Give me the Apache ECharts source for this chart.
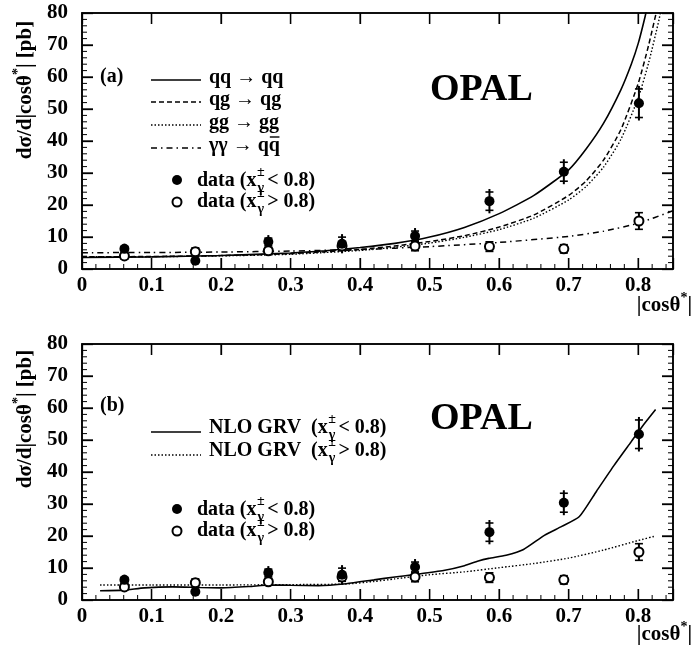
<!DOCTYPE html>
<html><head><meta charset="utf-8">
<script src="https://cdn.jsdelivr.net/npm/echarts@6/dist/echarts.min.js"></script>
<style>html,body{margin:0;padding:0;background:#fff}#c{width:696px;height:651px}</style>
</head><body><div id="c"></div>
<script>
// ---------- data ----------
const cosBins   = [0.061, 0.163, 0.268, 0.374, 0.479, 0.586, 0.693, 0.801];
const dataLow   = [6.3, 2.6, 8.5, 7.9, 10.3, 21.2, 30.4, 51.8];   // x_gamma < 0.8
const errLow    = [1.6, 1.0, 2.1, 3.0, 2.5, 3.8, 3.9, 5.4];
const dataHigh  = [4.1, 5.4, 5.7, 7.2, 7.2, 7.0, 6.3, 15.0];    // x_gamma > 0.8
const errHigh   = [1.0, 1.2, 1.1, 1.2, 1.5, 1.5, 1.3, 2.6];

const qqX = [0, 0.1, 0.2, 0.3, 0.35, 0.4, 0.45, 0.5, 0.55, 0.6, 0.65, 0.7, 0.725, 0.75, 0.775, 0.79, 0.8, 0.81, 0.815];
const qqY = [3.6, 3.8, 4.2, 5.0, 5.7, 6.7, 8.0, 10.0, 13.0, 17.3, 23.0, 31.0, 37.5, 45.5, 56, 64, 70.5, 79, 84];
const qgX = [0, 0.1, 0.2, 0.3, 0.4, 0.45, 0.5, 0.55, 0.6, 0.65, 0.7, 0.725, 0.75, 0.775, 0.8, 0.815, 0.83];
const qgY = [3.8, 3.9, 4.2, 4.8, 6.1, 7.2, 8.6, 10.4, 13.1, 16.9, 23.0, 27.5, 34.0, 43.5, 58, 70, 84];
const ggX = [0, 0.1, 0.2, 0.3, 0.4, 0.45, 0.5, 0.55, 0.6, 0.65, 0.7, 0.725, 0.75, 0.775, 0.8, 0.815, 0.83, 0.835];
const ggY = [3.8, 3.85, 4.1, 4.6, 5.8, 6.8, 8.1, 9.9, 12.3, 15.9, 21.6, 25.8, 31.8, 40.5, 53.5, 64.5, 78, 84];
const yyX = [0, 0.1, 0.2, 0.3, 0.4, 0.5, 0.6, 0.7, 0.75, 0.8, 0.85];
const yyY = [5.1, 5.15, 5.3, 5.6, 6.1, 7.0, 8.3, 10.2, 11.8, 14.3, 18.2];

const nloLowX = [0.026, 0.06, 0.09, 0.13, 0.17, 0.2, 0.24, 0.27, 0.3, 0.34, 0.38, 0.42, 0.45, 0.48, 0.52, 0.55, 0.57, 0.585, 0.61, 0.635, 0.665, 0.69, 0.715, 0.74, 0.765, 0.79, 0.805, 0.825];
const nloLowY = [2.9, 3.1, 3.8, 4.1, 3.9, 3.8, 4.2, 4.7, 4.6, 4.5, 5.1, 6.3, 7.2, 8.0, 9.2, 10.7, 12.2, 13.0, 14.0, 15.8, 20.2, 23.0, 26, 34, 42, 49.5, 54, 59.5];
const nloHighX = [0.026, 0.1, 0.2, 0.3, 0.38, 0.42, 0.45, 0.5, 0.55, 0.6, 0.65, 0.7, 0.75, 0.8, 0.825];
const nloHighY = [4.7, 4.7, 4.7, 4.8, 5.0, 5.8, 6.6, 7.9, 8.8, 10.1, 11.4, 13.1, 15.6, 18.6, 20.0];

const xTicks = ['0', '0.1', '0.2', '0.3', '0.4', '0.5', '0.6', '0.7', '0.8'];

// ---------- helpers ----------
const FF = '"Liberation Serif","Times New Roman",serif';
const mctx = document.createElement('canvas').getContext('2d');
function tw(t, s) { mctx.font = 'bold ' + s + 'px ' + FF; return mctx.measureText(t).width; }
function txt(x, y, text, size, rot) {
  const e = { type: 'text', x: x, y: y, silent: true, z: 20,
    style: { text: text, font: 'bold ' + size + 'px ' + FF, fill: '#000', align: 'left', verticalAlign: 'middle' } };
  if (rot) e.rotation = rot;
  return e;
}
function seg(x1, y1, x2, y2, w, dash) {
  const st = { stroke: '#000', lineWidth: w || 1.5 };
  if (dash) st.lineDash = dash;
  return { type: 'line', silent: true, z: 20, shape: { x1: x1, y1: y1, x2: x2, y2: y2 }, style: st };
}
function hline(x1, x2, y, dash, w) { return seg(x1, y, x2, y, w, dash); }
function xgLabel(x, y, prefix, rel) {
  const els = [];
  let cx = x;
  els.push(txt(cx, y, prefix + '(x', 20)); cx += tw(prefix + '(x', 20);
  els.push(txt(cx + 0.5, y - 9, '±', 14)); els.push(txt(cx + 1, y + 7, 'γ', 14));
  cx += tw('±', 14) + 3;
  els.push(txt(cx, y, rel + ' 0.8)', 20));
  return els;
}
const cX = v => { if (Math.abs(v - 0.85) < 1e-6) return ''; const i = Math.round(v * 10); return Math.abs(v * 10 - i) < 1e-6 ? xTicks[i] : ''; };

function axesFor(g) {
  const base = { gridIndex: g, type: 'value', splitLine: { show: false } };
  const lineOn = () => ({ show: true, onZero: false, lineStyle: { color: '#000', width: 1.5 } });
  const maj = () => ({ show: true, inside: true, length: 11, lineStyle: { color: '#000', width: 1.3 } });
  return { xs: [
    Object.assign({}, base, { min: 0, max: 0.85, interval: 0.1, position: 'bottom', axisLine: lineOn(), axisTick: maj(),
      axisLabel: { show: true, formatter: cX, fontFamily: FF, fontWeight: 'bold', fontSize: 21, color: '#000', margin: 6 } }),
    Object.assign({}, base, { min: 0, max: 0.85, interval: 0.1, position: 'top', axisLine: lineOn(), axisTick: maj(), axisLabel: { show: false } })
  ], ys: [
    Object.assign({}, base, { min: 0, max: 80, interval: 10, position: 'left', axisLine: lineOn(), axisTick: maj(),
      axisLabel: { show: true, fontFamily: FF, fontWeight: 'bold', fontSize: 21, color: '#000', margin: 14 } }),
    Object.assign({}, base, { min: 0, max: 80, interval: 10, position: 'right', axisLine: lineOn(), axisTick: maj(), axisLabel: { show: false } })
  ] };
}
const a0 = axesFor(0), a1 = axesFor(1);

function curve(xs, ys, type, xi, yi, w) {
  return { type: 'line', xAxisIndex: xi, yAxisIndex: yi, data: xs.map((x, i) => [x, ys[i]]),
    showSymbol: false, symbol: 'none', smooth: 0.2, clip: true, z: 2, silent: true,
    lineStyle: { color: '#000', width: w || 1.5, type: type } };
}
function errBars(vals, errs, plus, xi, yi) {
  return { type: 'custom', xAxisIndex: xi, yAxisIndex: yi, z: 3, silent: true,
    data: cosBins.map((x, i) => [x, vals[i], errs[i]]),
    renderItem: function (p, api) {
      const c = api.coord([api.value(0), api.value(1)]);
      const t = api.coord([api.value(0), api.value(1) + api.value(2)]);
      const b = api.coord([api.value(0), api.value(1) - api.value(2)]);
      const w = 4, ins = plus ? 3 : 0;
      return { type: 'group', children: [
        { type: 'line', shape: { x1: c[0], y1: t[1], x2: c[0], y2: b[1] }, style: { stroke: '#000', lineWidth: 2 } },
        { type: 'line', shape: { x1: c[0] - w, y1: t[1] + ins, x2: c[0] + w, y2: t[1] + ins }, style: { stroke: '#000', lineWidth: 1.6 } },
        { type: 'line', shape: { x1: c[0] - w, y1: b[1] - ins, x2: c[0] + w, y2: b[1] - ins }, style: { stroke: '#000', lineWidth: 1.6 } }
      ] };
    } };
}
function pts(vals, open, xi, yi) {
  return { type: 'scatter', xAxisIndex: xi, yAxisIndex: yi, z: 5, silent: true, symbol: 'circle', symbolSize: open ? 9 : 10,
    data: cosBins.map((x, i) => [x, vals[i]]),
    itemStyle: open ? { color: '#fff', borderColor: '#000', borderWidth: 2, opacity: 1 } : { color: '#000', opacity: 1 } };
}

// panel (a): xAxis 0, yAxis 0 ; panel (b): xAxis 2, yAxis 2
const series = [
  curve(qqX, qqY, 'solid', 0, 0, 1.6),
  curve(qgX, qgY, [5, 3], 0, 0, 1.5),
  curve(ggX, ggY, [1.5, 2], 0, 0, 1.4),
  curve(yyX, yyY, [6, 4, 1.5, 4], 0, 0, 1.5),
  curve(nloLowX, nloLowY, 'solid', 2, 2, 1.6),
  curve(nloHighX, nloHighY, [1.5, 2], 2, 2, 1.4),
  errBars(dataHigh, errHigh, false, 0, 0), errBars(dataLow, errLow, true, 0, 0),
  errBars(dataHigh, errHigh, false, 2, 2), errBars(dataLow, errLow, true, 2, 2),
  pts(dataHigh, true, 0, 0), pts(dataLow, false, 0, 0),
  pts(dataHigh, true, 2, 2), pts(dataLow, false, 2, 2)
];

// ---------- text / legend graphics ----------
const G = [];
function panelText(dy, tag) {
  G.push(txt(100, 77 + dy, tag, 20));
  G.push(txt(430, 90 + dy, 'OPAL', 38));
  G.push({ type: 'circle', silent: true, z: 20, shape: { cx: 177, cy: 180 + dy, r: 5 }, style: { fill: '#000' } });
  G.push({ type: 'circle', silent: true, z: 20, shape: { cx: 177, cy: 202 + dy, r: 4.5 }, style: { fill: '#fff', stroke: '#000', lineWidth: 2 } });
  xgLabel(197, 181 + dy, 'data ', '<').forEach(e => G.push(e));
  xgLabel(197, 202 + dy, 'data ', '>').forEach(e => G.push(e));
  const p1 = 'dσ/d|cosθ', p2 = '*', p3 = '| [pb]';
  const W = tw(p1, 21) + tw(p2, 14) + tw(p3, 21);
  const yb = 90 + dy + W / 2;
  G.push(txt(26, yb, p1, 21, Math.PI / 2));
  G.push(txt(18, yb - tw(p1, 21), p2, 14, Math.PI / 2));
  G.push(txt(26, yb - tw(p1, 21) - tw(p2, 14), p3, 21, Math.PI / 2));
  const q1 = '|cosθ', q2 = '*', q3 = '|';
  const xr = 692 - tw(q3, 21) - tw(q2, 14) - tw(q1, 21);
  G.push(txt(xr, 306 + dy, q1, 21));
  G.push(txt(xr + tw(q1, 21), 298 + dy, q2, 14));
  G.push(txt(xr + tw(q1, 21) + tw(q2, 14), 306 + dy, q3, 21));
}
panelText(0, '(a)');
panelText(329, '(b)');
const legA = [['qq → qq', null, 78], ['qg → qg', [5, 3], 100], ['gg → gg', [1.5, 2], 123], ['γγ → qq', [6, 4, 1.5, 4], 146]];
legA.forEach(function (r) {
  G.push(hline(151, 201, r[2] + 2, r[1], 1.6));
  G.push(txt(209, r[2], r[0], 20));
});
{ const s = tw('γγ → q', 20), w = tw('q', 20); G.push(hline(209 + s + 1, 209 + s + w - 0.5, 146 - 9, null, 1.4)); }
G.push(hline(151, 201, 432, null, 1.6));
G.push(hline(151, 201, 455, [1.5, 2], 1.4));
xgLabel(209, 428, 'NLO GRV  ', '<').forEach(e => G.push(e));
xgLabel(209, 451, 'NLO GRV  ', '>').forEach(e => G.push(e));

// ---------- render ----------
const chart = echarts.init(document.getElementById('c'));
chart.setOption({
  animation: false,
  backgroundColor: '#fff',
  grid: [{ left: 82, top: 13, width: 591, height: 256 }, { left: 82, top: 344, width: 591, height: 256 }],
  xAxis: a0.xs.concat(a1.xs),
  yAxis: a0.ys.concat(a1.ys),
  series: series,
  graphic: G
});

// ROOT-style frame and tick marks, placed through the chart's own axis scales
const F = [];
[[0, 0], [2, 2]].forEach(function (ax) {
  const fr = { xAxisIndex: ax[0], yAxisIndex: ax[1] };
  const px = v => chart.convertToPixel(fr, [v, 0])[0];
  const py = v => chart.convertToPixel(fr, [0, v])[1];
  const L = px(0), R = px(0.85), B = py(0), T = py(80);
  F.push({ type: 'rect', silent: true, z: 19, shape: { x: L, y: T, width: R - L, height: B - T },
    style: { fill: null, stroke: '#000', lineWidth: 1.6 } });
  for (let k = 1; k < 43; k++) {              // x ticks every 0.02, major every 0.1
    const v = k / 50, x = px(v), major = (k % 5 === 0);
    const len = major ? 11 : 5;
    F.push(seg(x, B, x, B - len, major ? 1.3 : 1));
    if (major) F.push(seg(x, T, x, T + len, 1.3));
  }
  for (let k = 1; k < 40; k++) {              // y ticks every 2, major every 10
    const v = 2 * k, y = py(v), major = (k % 5 === 0);
    const len = major ? 11 : 5;
    F.push(seg(L, y, L + len, y, major ? 1.3 : 1));
    F.push(seg(R, y, R - len, y, major ? 1.3 : 1));
  }
});
chart.setOption({ graphic: G.concat(F) });
</script></body></html>
